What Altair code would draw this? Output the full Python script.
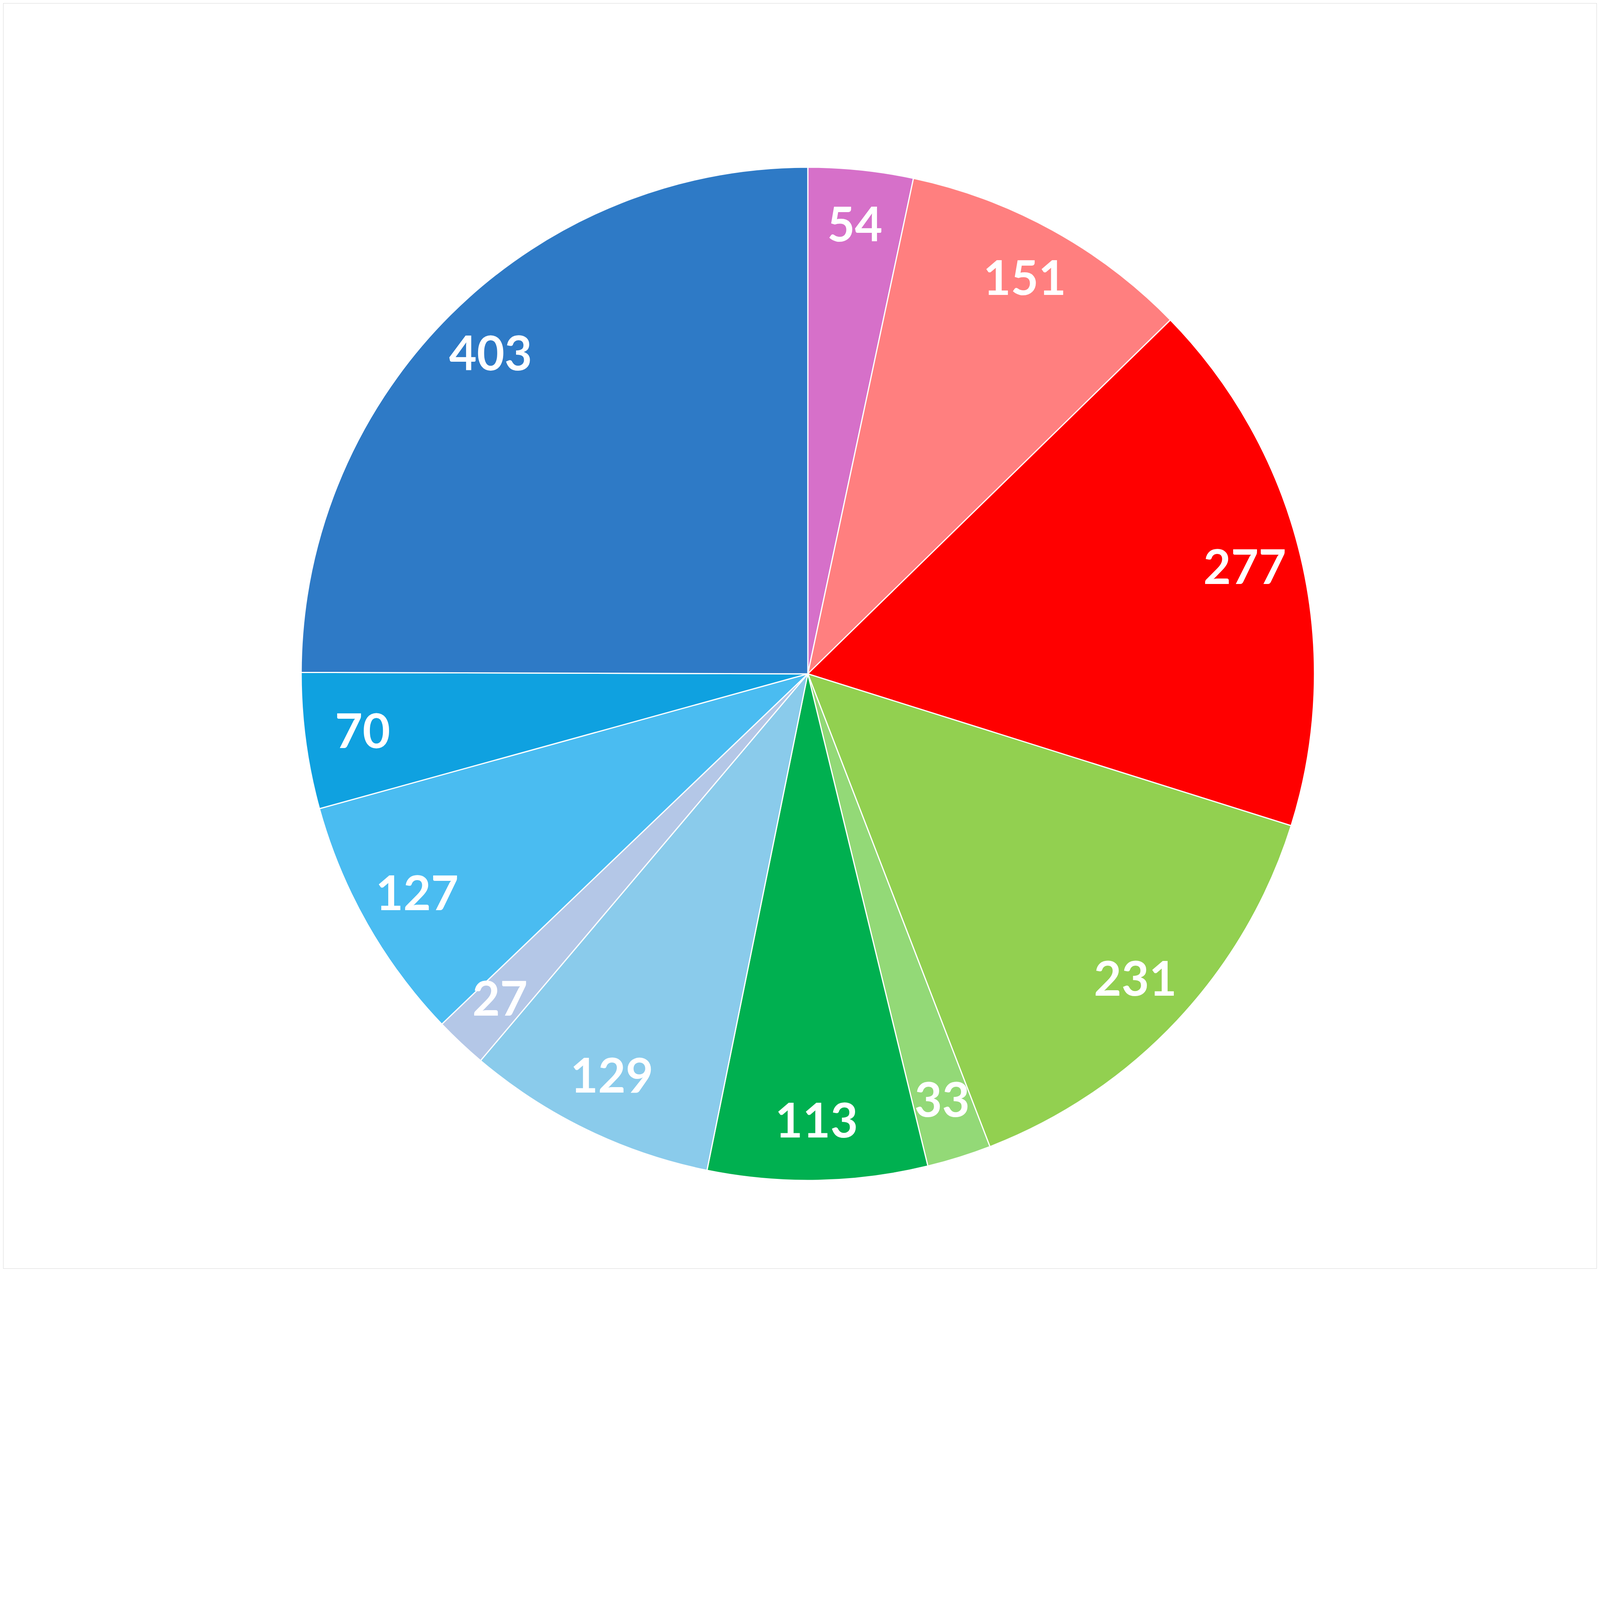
import altair as alt
import pandas as pd

values = [54, 151, 277, 231, 33, 113, 129, 27, 127, 70, 403]
labels = ["54", "151", "277", "231", "33", "113", "129", "27", "127", "70", "403"]
colors = ["#D670C9", "#FF7F7F", "#FF0000", "#92D050", "#93D977", "#00B050",
          "#8ACBEB", "#B4C7E7", "#4ABCF1", "#0FA1E0", "#2E7AC6"]

df = pd.DataFrame({"idx": list(range(len(values))), "value": values, "label": labels})

CX, CY, R = 2060, 1717, 1297

base = alt.Chart(df).encode(
    theta=alt.Theta("value:Q", stack=True),
    order=alt.Order("idx:Q", sort="ascending"),
    x=alt.value(CX),
    y=alt.value(CY),
)

arcs = base.mark_arc(radius=R, stroke="white", strokeWidth=3).encode(
    color=alt.Color("idx:N", scale=alt.Scale(domain=list(range(len(values))), range=colors), legend=None)
)

text = base.mark_text(radius=1150, font="Lato", fontWeight="bold", fontSize=122,
                      color="white", align="center", baseline="middle").encode(
    text="label:N"
)

chart = (arcs + text).properties(
    width=4080, height=3240,
    autosize=alt.AutoSizeParams(type="none"),
    padding=0,
    background="white",
).configure_view(stroke="#D9D9D9", strokeWidth=2)

chart.save("out.html", embed_options={"renderer": "svg", "actions": False})
